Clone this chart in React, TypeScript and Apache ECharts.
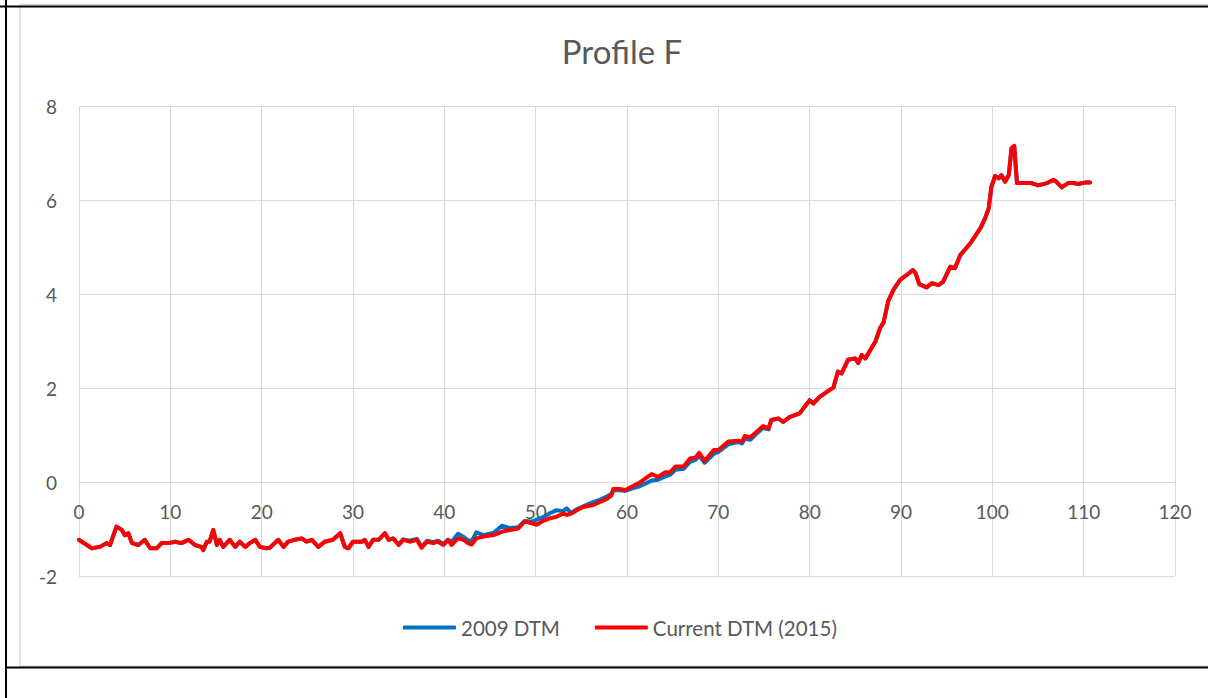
import React, { useEffect, useRef } from "react";
import * as echarts from "echarts";

const titleText = "Profile F";
const seriesNames = ["2009 DTM", "Current DTM (2015)"];
const xTicks = { min: 0, max: 120, interval: 10 };
const yTicks = { min: -2, max: 8, interval: 2 };

const distance = [
  0, 1.4, 2.3, 3.0, 3.4, 4.1, 4.7, 5.0, 5.4, 5.8, 6.5, 7.2, 7.8, 8.5, 9.05, 9.8,
  10.5, 11.2, 12.0, 12.7, 13.4, 13.6, 14.0, 14.3, 14.7, 15.1, 15.4, 15.8, 16.5, 17.1, 17.6, 18.2,
  18.7, 19.3, 19.8, 20.5, 20.9, 21.8, 22.4, 22.9, 23.6, 24.4, 24.9, 25.5, 26.2, 26.9, 27.8, 28.6,
  29.1, 29.5, 30.0, 31.0, 31.3, 31.7, 32.2, 32.8, 33.5, 33.9, 34.4, 35.0, 35.5, 36.2, 37.0, 37.5,
  38.1, 38.8, 39.3, 39.9, 40.4, 40.8, 41.5, 42.1, 42.6, 43.0, 43.5, 44.3, 45.4, 46.3, 47.2, 48.1,
  48.8, 49.6, 50.1, 50.7, 51.6, 52.3, 53.0, 53.4, 53.9, 54.5, 55.2, 56.3, 57.0, 57.8, 58.3, 58.5,
  59.2, 59.8, 60.5, 61.4, 62.7, 63.4, 64.2, 64.7, 65.3, 66.2, 66.9, 67.5, 67.9, 68.5, 69.5, 70.0,
  71.1, 72.2, 72.6, 72.9, 73.5, 74.2, 74.9, 75.5, 75.8, 76.6, 77.1, 77.8, 78.9, 80.0, 80.4, 81.1,
  82.2, 82.6, 83.1, 83.5, 84.2, 85.0, 85.3, 85.7, 86.1, 87.2, 87.7, 88.1, 88.6, 89.2, 89.9, 90.6,
  91.3, 91.6, 92.0, 92.8, 93.4, 94.1, 94.6, 95.4, 95.9, 96.5, 97.6, 98.7, 99.2, 99.6, 99.9, 100.3,
  100.7, 101.0, 101.4, 101.8, 102.1, 102.4, 102.7, 103.4, 104.3, 105.0, 106.0, 106.7, 107.0, 107.6, 108.3, 108.9,
  109.4, 110.1, 110.7,
];

const dtm2015 = [
  -1.23, -1.41, -1.38, -1.30, -1.34, -0.95, -1.02, -1.13, -1.09, -1.30, -1.34, -1.23, -1.41, -1.41, -1.30, -1.30,
  -1.27, -1.30, -1.23, -1.34, -1.38, -1.45, -1.27, -1.27, -1.02, -1.34, -1.23, -1.38, -1.23, -1.38, -1.27, -1.38,
  -1.30, -1.23, -1.38, -1.41, -1.40, -1.23, -1.38, -1.27, -1.23, -1.20, -1.27, -1.23, -1.38, -1.27, -1.23, -1.09,
  -1.38, -1.41, -1.27, -1.27, -1.23, -1.38, -1.23, -1.23, -1.09, -1.23, -1.20, -1.34, -1.23, -1.27, -1.23, -1.40,
  -1.27, -1.30, -1.27, -1.34, -1.23, -1.34, -1.20, -1.23, -1.30, -1.33, -1.20, -1.16, -1.13, -1.06, -1.02, -0.99,
  -0.84, -0.88, -0.91, -0.84, -0.77, -0.74, -0.67, -0.70, -0.67, -0.60, -0.53, -0.49, -0.43, -0.36, -0.28, -0.15,
  -0.15, -0.17, -0.10, -0.01, 0.17, 0.11, 0.21, 0.20, 0.33, 0.33, 0.50, 0.52, 0.62, 0.45, 0.68, 0.68,
  0.86, 0.88, 0.86, 0.98, 0.95, 1.07, 1.19, 1.14, 1.32, 1.35, 1.28, 1.38, 1.46, 1.74, 1.67, 1.81,
  1.96, 2.01, 2.35, 2.31, 2.60, 2.63, 2.53, 2.70, 2.63, 2.99, 3.27, 3.40, 3.85, 4.10, 4.30, 4.40,
  4.51, 4.44, 4.21, 4.14, 4.23, 4.19, 4.26, 4.58, 4.55, 4.83, 5.08, 5.40, 5.61, 5.82, 6.28, 6.51,
  6.46, 6.53, 6.39, 6.53, 7.10, 7.15, 6.36, 6.36, 6.36, 6.31, 6.36, 6.43, 6.39, 6.27, 6.36, 6.36,
  6.34, 6.37, 6.37,
];

const dtm2009 = [
  -1.23, -1.41, -1.38, -1.30, -1.34, -0.95, -1.02, -1.13, -1.09, -1.30, -1.34, -1.23, -1.41, -1.41, -1.30, -1.30,
  -1.27, -1.30, -1.23, -1.34, -1.38, -1.45, -1.27, -1.27, -1.02, -1.34, -1.23, -1.38, -1.23, -1.38, -1.27, -1.38,
  -1.30, -1.23, -1.38, -1.41, -1.40, -1.23, -1.38, -1.27, -1.23, -1.20, -1.27, -1.23, -1.38, -1.27, -1.23, -1.09,
  -1.38, -1.41, -1.27, -1.27, -1.23, -1.38, -1.23, -1.23, -1.09, -1.23, -1.20, -1.33, -1.22, -1.25, -1.21, -1.38,
  -1.25, -1.28, -1.25, -1.32, -1.23, -1.27, -1.10, -1.17, -1.24, -1.26, -1.07, -1.13, -1.08, -0.93, -0.98, -0.96,
  -0.83, -0.84, -0.80, -0.76, -0.66, -0.60, -0.62, -0.56, -0.66, -0.58, -0.52, -0.43, -0.38, -0.31, -0.25, -0.18,
  -0.17, -0.19, -0.14, -0.09, 0.03, 0.05, 0.12, 0.15, 0.26, 0.28, 0.43, 0.47, 0.56, 0.41, 0.60, 0.64,
  0.80, 0.85, 0.82, 0.92, 0.90, 1.03, 1.15, 1.12, 1.32, 1.35, 1.28, 1.38, 1.46, 1.74, 1.67, 1.81,
  1.96, 2.01, 2.35, 2.31, 2.60, 2.63, 2.53, 2.70, 2.63, 2.99, 3.27, 3.40, 3.85, 4.10, 4.30, 4.40,
  4.51, 4.44, 4.21, 4.14, 4.23, 4.19, 4.26, 4.58, 4.55, 4.83, 5.08, 5.40, 5.61, 5.82, 6.28, 6.51,
  6.46, 6.53, 6.39, 6.53, 7.10, 7.15, 6.36, 6.36, 6.36, 6.31, 6.36, 6.43, 6.39, 6.27, 6.36, 6.36,
  6.34, 6.37, 6.37,
];

const FONT = "Lato, 'Noto Sans', sans-serif";
const TEXT_COLOR = "#595959";
const GRID_COLOR = "#d9d9d9";

export default function App() {
  const ref = useRef<HTMLDivElement>(null);

  useEffect(() => {
    document.body.style.margin = "0";
    if (!ref.current) return;
    const chart = echarts.init(ref.current, undefined, { renderer: "svg" });
    const option = {
      animation: false,
      backgroundColor: "#ffffff",
      title: {
        text: titleText,
        left: 617,
        top: 29,
        textAlign: "center",
        textStyle: { color: TEXT_COLOR, fontSize: 33, fontWeight: "normal", fontFamily: FONT },
      },
      legend: {
        left: 403,
        top: 617,
        padding: 0,
        itemWidth: 53,
        itemHeight: 4,
        itemGap: 35,
        icon: "roundRect",
        textStyle: { color: TEXT_COLOR, fontSize: 20.5, fontFamily: FONT },
        data: seriesNames,
      },
      grid: { left: 79, right: 33, top: 106, bottom: 122 },
      xAxis: {
        type: "value",
        min: xTicks.min,
        max: xTicks.max,
        interval: xTicks.interval,
        position: "bottom",
        offset: -94,
        axisLine: { show: true, onZero: false, lineStyle: { color: GRID_COLOR, width: 1 } },
        axisTick: { show: false },
        axisLabel: { color: TEXT_COLOR, fontSize: 19, fontFamily: FONT, margin: 20 },
        splitLine: { show: true, lineStyle: { color: GRID_COLOR, width: 1 } },
      },
      yAxis: {
        type: "value",
        min: yTicks.min,
        max: yTicks.max,
        interval: yTicks.interval,
        axisLine: { show: false, onZero: false },
        axisTick: { show: false },
        axisLabel: { color: TEXT_COLOR, fontSize: 19, fontFamily: FONT, margin: 22 },
        splitLine: { show: true, lineStyle: { color: GRID_COLOR, width: 1 } },
      },
      graphic: [
        {
          type: "rect",
          shape: { x: 20, y: 4.5, width: 1300, height: 661.5 },
          style: { fill: "none", stroke: GRID_COLOR, lineWidth: 1.3 },
          silent: true,
          z: -1,
        },
        {
          type: "line",
          shape: { x1: 0, y1: 6.5, x2: 1208, y2: 6.5 },
          style: { stroke: "#000000", lineWidth: 2 },
          silent: true,
        },
        {
          type: "line",
          shape: { x1: 6, y1: 0, x2: 6, y2: 698 },
          style: { stroke: "#000000", lineWidth: 2 },
          silent: true,
        },
        {
          type: "line",
          shape: { x1: 6, y1: 667.5, x2: 1208, y2: 667.5 },
          style: { stroke: "#000000", lineWidth: 2 },
          silent: true,
        },
      ],
      series: [
        {
          name: seriesNames[0],
          type: "line",
          data: distance.map((d, i) => [d, dtm2009[i]]),
          showSymbol: false,
          smooth: false,
          color: "#0070C0",
          lineStyle: { color: "#0070C0", width: 4, join: "round", cap: "round" },
        },
        {
          name: seriesNames[1],
          type: "line",
          data: distance.map((d, i) => [d, dtm2015[i]]),
          showSymbol: false,
          smooth: false,
          color: "#FF0000",
          lineStyle: { color: "#FF0000", width: 4, join: "round", cap: "round" },
        },
      ],
    };
    chart.setOption(option as any);
    return () => chart.dispose();
  }, []);

  return (
    <div
      ref={ref}
      style={{ position: "fixed", left: 0, top: 0, width: 1208, height: 698 }}
    />
  );
}
